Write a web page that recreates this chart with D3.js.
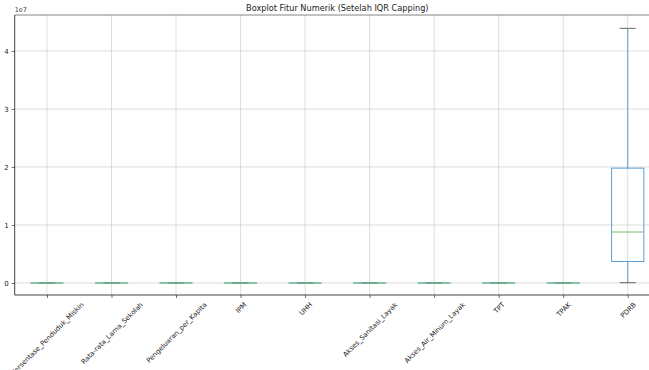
<!DOCTYPE html>
<html>
<head>
<meta charset="utf-8">
<script src="https://cdn.jsdelivr.net/npm/d3@7"></script>
<style>
  html, body { margin: 0; padding: 0; background: #fff; overflow: hidden; }
  svg { display: block; font-family: "DejaVu Sans", sans-serif; }
</style>
</head>
<body>
<svg id="chart" width="649" height="370"></svg>
<script>
// Feature names shown along the x axis
const categories = [
  "Persentase_Penduduk_Miskin", "Rata-rata_Lama_Sekolah", "Pengeluaran_per_Kapita",
  "IPM", "UHH", "Akses_Sanitasi_Layak", "Akses_Air_Minum_Layak", "TPT", "TPAK", "PDRB"
];
// Five-number summaries after IQR capping: lower whisker, Q1, median, Q3, upper whisker
const whiskerLow = [3.5, 6.8, 6500, 61, 64, 55, 70, 1.5, 62, 50000];
const q1         = [8.5, 7.9, 9500, 67, 67.5, 75, 82, 3.5, 66, 3700000];
const median     = [11.5, 8.5, 10800, 69.5, 69.5, 82, 88, 4.8, 68, 8800000];
const q3         = [14.5, 9.2, 12500, 72, 71, 89, 93, 6.0, 70.5, 19800000];
const whiskerHigh= [23, 11, 16500, 79, 74, 100, 100, 9.5, 76, 43900000];
const yTicks = [0, 1e7, 2e7, 3e7, 4e7];

const svg = d3.select("#chart");
const plotLeft = 14.7, plotRight = 660, plotTop = 15, plotBottom = 295;

const x = d3.scaleLinear().domain([0.5, categories.length + 0.5]).range([plotLeft, plotRight]);
const y = d3.scaleLinear().domain([-0.207e7, 4.62e7]).range([plotBottom, plotTop]);
const step = x(2) - x(1);
const boxW = step * 0.5;
const capW = boxW * 0.5;
const boxColor = "#5a9fd6";
const medianColor = "#6cc36c";

// grid
const grid = svg.append("g");
yTicks.forEach(t => grid.append("line")
  .attr("x1", plotLeft).attr("x2", plotRight).attr("y1", y(t)).attr("y2", y(t))
  .attr("stroke", "#b0b0b0").attr("stroke-opacity", 0.55).attr("stroke-width", 0.8));
categories.forEach((c, i) => grid.append("line")
  .attr("x1", x(i + 1)).attr("x2", x(i + 1)).attr("y1", plotTop).attr("y2", plotBottom)
  .attr("stroke", "#b0b0b0").attr("stroke-opacity", 0.55).attr("stroke-width", 0.8));

// boxes
const boxes = svg.append("g");
categories.forEach((c, i) => {
  const cx = x(i + 1);
  const g = boxes.append("g");
  // whiskers
  g.append("line").attr("x1", cx).attr("x2", cx).attr("y1", y(q3[i])).attr("y2", y(whiskerHigh[i]))
    .attr("stroke", boxColor).attr("stroke-width", 1);
  g.append("line").attr("x1", cx).attr("x2", cx).attr("y1", y(q1[i])).attr("y2", y(whiskerLow[i]))
    .attr("stroke", boxColor).attr("stroke-width", 1);
  // caps
  [whiskerLow[i], whiskerHigh[i]].forEach(v => g.append("line")
    .attr("x1", cx - capW / 2).attr("x2", cx + capW / 2).attr("y1", y(v)).attr("y2", y(v))
    .attr("stroke", "#666").attr("stroke-width", 1));
  // box
  g.append("rect").attr("x", cx - boxW / 2).attr("width", boxW)
    .attr("y", y(q3[i])).attr("height", Math.max(0.01, y(q1[i]) - y(q3[i])))
    .attr("fill", "none").attr("stroke", boxColor).attr("stroke-width", 1);
  // median
  g.append("line").attr("x1", cx - boxW / 2).attr("x2", cx + boxW / 2)
    .attr("y1", y(median[i])).attr("y2", y(median[i]))
    .attr("stroke", medianColor).attr("stroke-width", 1.1);
});

// spines
svg.append("line").attr("x1", plotLeft).attr("x2", plotRight).attr("y1", plotTop).attr("y2", plotTop)
  .attr("stroke", "#666").attr("stroke-width", 0.8);
svg.append("line").attr("x1", plotLeft).attr("x2", plotRight).attr("y1", plotBottom).attr("y2", plotBottom)
  .attr("stroke", "#111").attr("stroke-width", 0.8);
svg.append("line").attr("x1", plotLeft).attr("x2", plotLeft).attr("y1", plotTop).attr("y2", plotBottom)
  .attr("stroke", "#111").attr("stroke-width", 0.8);

// y axis
const yAxis = d3.axisLeft(y).tickValues(yTicks).tickSize(3).tickPadding(3)
  .tickFormat(d => d3.format("d")(d / 1e7));
const yg = svg.append("g").attr("transform", `translate(${plotLeft},0)`).call(yAxis);
yg.select(".domain").remove();
yg.selectAll("line").attr("stroke", "#333").attr("stroke-width", 0.7);
yg.selectAll("text").attr("font-size", 7).attr("fill", "#222").attr("font-family", "DejaVu Sans");

svg.append("text").attr("x", plotLeft).attr("y", 12).attr("font-size", 6.5).attr("fill", "#333")
  .text("1e7");

// x axis: labels rotated 45° and centred under each tick
const xAxis = d3.axisBottom(x).tickValues(d3.range(1, categories.length + 1))
  .tickSize(3).tickFormat(d => categories[d - 1]);
const xg = svg.append("g").attr("transform", `translate(0,${plotBottom})`).call(xAxis);
xg.select(".domain").remove();
xg.selectAll("line").attr("stroke", "#333").attr("stroke-width", 0.7);
const fontSize = 6.8;
xg.selectAll("text")
  .attr("font-size", fontSize).attr("fill", "#222").attr("font-family", "DejaVu Sans")
  .attr("text-anchor", "middle").attr("dy", "0.35em").attr("y", 0)
  .each(function () {
    const len = this.getComputedTextLength();
    const half = (len + fontSize) * Math.SQRT1_2 / 2;
    d3.select(this).attr("transform", `translate(0,${6 + half}) rotate(-45)`);
  });

// title
svg.append("text").attr("x", (plotLeft + plotRight) / 2).attr("y", 11).attr("text-anchor", "middle")
  .attr("font-size", 8.2).attr("fill", "#222").text("Boxplot Fitur Numerik (Setelah IQR Capping)");
</script>
</body>
</html>
